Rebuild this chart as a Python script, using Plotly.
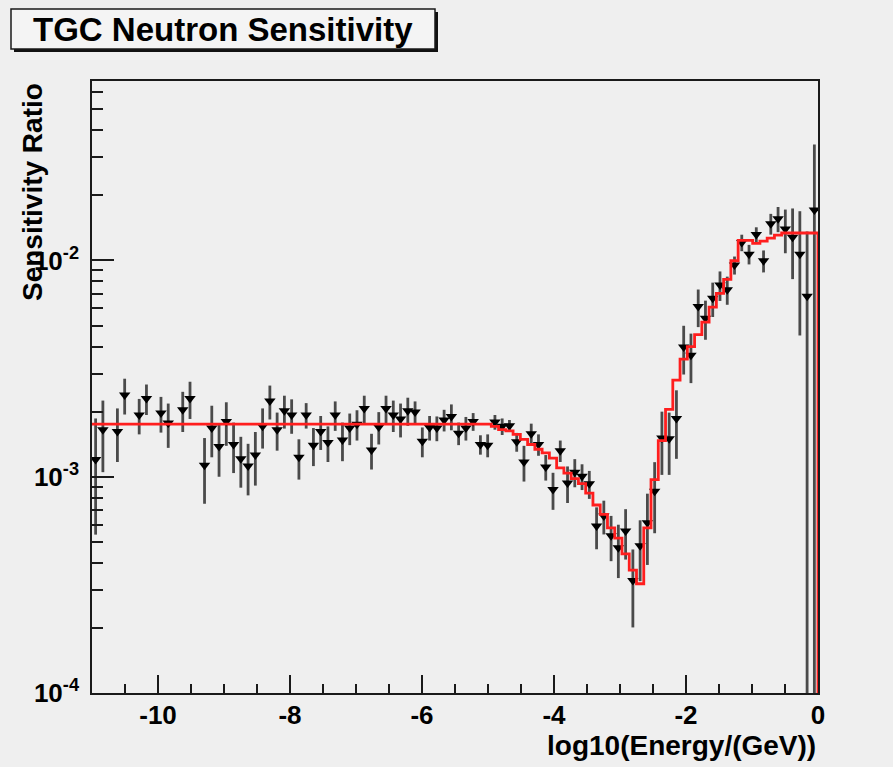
import plotly.graph_objects as go

# ---------------- data (ratios in units of 1e-3) ----------------
x_min, x_max = -11.0, 0.0
n_bins = 100
unit = 1e-3

# measured sensitivity ratio per bin (None = empty bin)
data_ratio = [
    1.20, 1.65, None, 1.62, 2.39, None, 1.93, 2.30, None, 1.97,
    1.77, None, 2.04, 2.30, None, 1.13, 1.68, 1.38, 1.80, 1.41,
    1.21, 1.12, 1.26, 1.71, 2.24, 1.65, 2.02, 1.93, 1.23, 1.93,
    1.40, 1.62, 1.44, 1.93, 1.48, 1.68, 1.75, 2.07, 1.33, 1.70,
    2.07, 1.93, 1.85, 2.02, 1.99, 1.46, 1.69, 1.68, 1.83, 1.90,
    1.59, 1.68, 1.80, 1.41, 1.40, 1.79, 1.71, 1.72, 1.45, 1.17,
    1.58, 1.41, 1.11, 0.873, 1.32, 0.936, 1.05, 1.005, 0.927, 0.592,
    0.658, 0.533, 0.470, 0.561, 0.331, 0.479, 0.613, 0.858, 1.51, 1.50,
    1.86, 3.98, 3.65, 6.13, 5.41, 6.69, 7.70, 7.33, 9.52, 12.1,
    10.7, 13.2, 9.97, 14.8, 15.6, 14.0, 12.8, 10.7, 6.83, 17.1,
]
data_err = [
    0.66, 0.60, None, 0.45, 0.45, None, 0.36, 0.37, None, 0.37,
    0.41, None, 0.43, 0.45, None, 0.38, 0.45, 0.38, 0.41, 0.37,
    0.32, 0.30, 0.35, 0.36, 0.40, 0.33, 0.35, 0.35, 0.26, 0.26,
    0.28, 0.29, 0.27, 0.30, 0.30, 0.28, 0.28, 0.30, 0.25, 0.29,
    0.30, 0.32, 0.33, 0.30, 0.24, 0.23, 0.22, 0.22, 0.21, 0.26,
    0.19, 0.21, 0.17, 0.145, 0.17, 0.14, 0.15, 0.11, 0.145, 0.22,
    0.18, 0.16, 0.15, 0.17, 0.15, 0.18, 0.156, 0.137, 0.137, 0.13,
    0.117, 0.126, 0.13, 0.147, 0.13, 0.15, 0.222, 0.31, 0.49, 0.48,
    0.65, 1.01, 0.94, 1.21, 1.11, 1.21, 1.20, 1.09, 0.91, 1.06,
    1.11, 1.04, 1.16, 1.63, 2.08, 3.2, 4.6, 6.2, 6.8, 17.3,
]
# simulated sensitivity (red histogram)
sim_ratio = [1.75] * 55 + [
    1.71, 1.65, 1.63, 1.57, 1.49, 1.41, 1.34, 1.29, 1.22,
    1.10, 1.04, 0.98, 0.93, 0.84, 0.74, 0.67, 0.58, 0.52, 0.44,
    0.37, 0.32, 0.58, 0.97, 1.47, 2.05, 2.80, 3.50, 4.00, 4.54,
    5.19, 6.08, 7.05, 8.18, 9.97, 12.4, 12.4, 12.0, 12.3, 12.7,
    13.1, 13.4, 13.4, 13.4, 13.4, 13.4,
]

x_tick_vals = [-10, -8, -6, -4, -2, 0]
x_tick_text = ["-10", "-8", "-6", "-4", "-2", "0"]
y_tick_vals = [1e-4, 1e-3, 1e-2]
y_tick_text = ["10<sup>-4</sup>", "10<sup>-3</sup>", "10<sup>-2</sup>"]

title_text = "TGC Neutron Sensitivity"
x_title = "log10(Energy/(GeV))"
y_title = "Sensitivity Ratio"

# ---------------- build ----------------
bin_w = (x_max - x_min) / n_bins
centers = [x_min + (i + 0.5) * bin_w for i in range(n_bins)]
edges = [x_min + i * bin_w for i in range(n_bins + 1)]

pts_x, pts_y, e_plus, e_minus = [], [], [], []
for c, v, e in zip(centers, data_ratio, data_err):
    if v is None:
        continue
    val = v * unit
    err = e * unit
    pts_x.append(c)
    pts_y.append(val)
    e_plus.append(err)
    e_minus.append(min(err, val * 0.9995))

hist_x = edges + [x_max]
hist_y = [s * unit for s in sim_ratio] + [sim_ratio[-1] * unit, 1e-7]

FONT = "Liberation Sans, Arial, Helvetica, sans-serif"

fig = go.Figure()
fig.add_trace(go.Scatter(
    x=pts_x, y=pts_y, mode="markers",
    marker=dict(symbol="triangle-down", size=10, color="black"),
    error_y=dict(type="data", symmetric=False, array=e_plus, arrayminus=e_minus,
                 color="#4a4a4a", thickness=2.8, width=0),
    hoverinfo="skip",
))
fig.add_trace(go.Scatter(
    x=hist_x, y=hist_y, mode="lines", line_shape="hv",
    line=dict(color="#ff1e1e", width=2.8),
    hoverinfo="skip",
))

# geometry of the frame in pixels
L, R, T, B = 92, 818, 81, 693
W, H = 893, 767


def px(xp):
    return (xp - L) / (R - L)


def py(yp):
    return (B - yp) / (B - T)


minor_y = []
for d in (1e-4, 1e-3, 1e-2):
    for k in range(2, 10):
        minor_y.append(k * d)

fig.update_layout(
    width=W, height=H,
    margin=dict(l=L, r=W - R, t=T, b=H - B, pad=0),
    paper_bgcolor="#efefef", plot_bgcolor="#efefef",
    showlegend=False,
    xaxis=dict(
        range=[x_min, x_max], showgrid=False, zeroline=False,
        showline=True, linecolor="#1a1a1a", linewidth=1.6, mirror=True,
        ticks="inside", ticklen=18, tickwidth=1.5, tickcolor="#1a1a1a",
        tickmode="array", tickvals=x_tick_vals, ticktext=x_tick_text,
        tickfont=dict(family=FONT, size=26, color="black", weight="bold"),
        minor=dict(ticks="inside", ticklen=9, tickwidth=1.5, tickcolor="#1a1a1a",
                   dtick=0.5, tick0=0, showgrid=False),
        ticklabelstandoff=-2,
    ),
    yaxis=dict(
        type="log", range=[-4, -1.17], showgrid=False, zeroline=False,
        showline=True, linecolor="#1a1a1a", linewidth=1.6, mirror=True,
        ticks="inside", ticklen=22, tickwidth=1.5, tickcolor="#1a1a1a",
        tickmode="array", tickvals=y_tick_vals, ticktext=y_tick_text,
        tickfont=dict(family=FONT, size=26, color="black", weight="bold"),
        minor=dict(ticks="inside", ticklen=11, tickwidth=1.5, tickcolor="#1a1a1a",
                   tickmode="array", tickvals=minor_y, showgrid=False),
        ticklabelstandoff=6,
    ),
    shapes=[
        dict(type="rect", xref="paper", yref="paper",
             x0=px(14), x1=px(438), y0=py(12), y1=py(52),
             fillcolor="#111111", line=dict(width=0), layer="above"),
        dict(type="rect", xref="paper", yref="paper",
             x0=px(11), x1=px(435), y0=py(9), y1=py(49),
             fillcolor="#f4f4f4", line=dict(color="#1a1a1a", width=1.5), layer="above"),
    ],
    annotations=[
        dict(text=title_text, xref="paper", yref="paper",
             x=px(223), y=py(29), xanchor="center", yanchor="middle", showarrow=False,
             font=dict(family=FONT, size=33, color="black", weight="bold")),
        dict(text=x_title, xref="paper", yref="paper",
             x=1.0, y=py(745), xanchor="right", yanchor="middle", showarrow=False,
             font=dict(family=FONT, size=28, color="black", weight="bold")),
        dict(text=y_title, xref="paper", yref="paper", textangle=-90,
             x=px(32), y=1.0, xanchor="center", yanchor="top", showarrow=False,
             font=dict(family=FONT, size=28, color="black", weight="bold")),
    ],
)

fig.write_html("out.html")
